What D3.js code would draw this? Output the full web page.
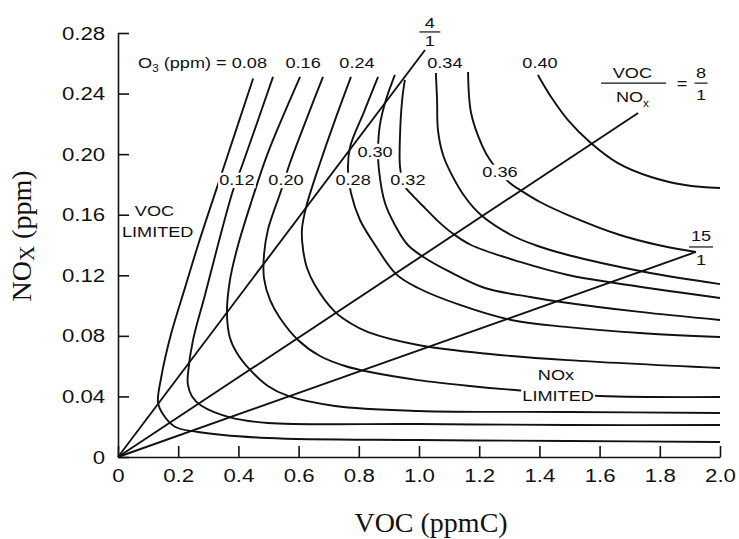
<!DOCTYPE html>
<html>
<head>
<meta charset="utf-8">
<script src="https://cdn.jsdelivr.net/npm/d3@7"></script>
<style>
  body { margin: 0; background: #fff; }
  text { font-family: "Liberation Sans", Arial, Helvetica, sans-serif; fill: #111; }
  .serif { font-family: "Liberation Serif", "Times New Roman", serif; }
</style>
</head>
<body>
<div id="chart"></div>
<script>
// ozone isopleths, points are [VOC (ppmC), NOx (ppm)]
var o3Levels = ["0.08", "0.12", "0.16", "0.20", "0.24", "0.28", "0.30", "0.32", "0.34", "0.36", "0.40"];

var iso008 = [[0.449,0.250],[0.359,0.196],[0.266,0.140],[0.223,0.112],[0.176,0.081],[0.143,0.052],[0.133,0.036],[0.150,0.028],[0.189,0.020],[0.266,0.0165],[0.498,0.0125],[0.997,0.0112],[1.495,0.0106],[2.0,0.0099]];
var iso012 = [[0.515,0.251],[0.415,0.194],[0.382,0.176],[0.332,0.140],[0.289,0.107],[0.249,0.077],[0.233,0.056],[0.232,0.048],[0.246,0.040],[0.276,0.034],[0.375,0.026],[0.498,0.0225],[0.997,0.0218],[1.495,0.0211],[2.0,0.0211]];
var iso016 = [[0.605,0.251],[0.498,0.2008],[0.445,0.1697],[0.399,0.140],[0.372,0.1169],[0.362,0.0951],[0.372,0.0786],[0.395,0.0687],[0.439,0.0575],[0.498,0.0469],[0.565,0.0403],[0.721,0.0337],[0.997,0.0304],[1.495,0.0297],[2.0,0.0291]];
var iso020 = [[0.681,0.251],[0.625,0.2225],[0.571,0.194],[0.542,0.176],[0.498,0.150],[0.485,0.1334],[0.485,0.1182],[0.505,0.1037],[0.538,0.0918],[0.598,0.0773],[0.671,0.0667],[0.754,0.0601],[0.837,0.0561],[0.997,0.0508],[1.169,0.0469],[1.319,0.0442],[1.601,0.0403],[2.0,0.0396]];
var iso024 = [[0.774,0.251],[0.721,0.2225],[0.671,0.194],[0.625,0.165],[0.611,0.150],[0.615,0.1367],[0.628,0.1248],[0.654,0.1136],[0.721,0.0958],[0.771,0.0885],[0.831,0.0825],[0.997,0.074],[1.236,0.068],[1.495,0.064],[2.0,0.0588]];
var iso028 = [[0.864,0.251],[0.817,0.2278],[0.771,0.2047],[0.764,0.1895],[0.774,0.1743],[0.804,0.1565],[0.854,0.140],[0.924,0.1208],[0.997,0.1116],[1.136,0.1004],[1.306,0.0905],[1.495,0.0858],[1.734,0.0819],[2.0,0.0792]];
var iso030 = [[0.920,0.2523],[0.890,0.2357],[0.870,0.2192],[0.864,0.2027],[0.867,0.1895],[0.887,0.1677],[0.920,0.1532],[0.963,0.140],[1.02,0.1314],[1.103,0.1222],[1.219,0.1116],[1.369,0.1057],[1.472,0.1024],[1.734,0.0958],[2.0,0.0905]];
var iso032 = [[0.953,0.249],[0.944,0.2357],[0.937,0.2126],[0.937,0.1915],[0.950,0.1796],[0.980,0.1724],[1.020,0.1644],[1.063,0.1558],[1.110,0.1479],[1.173,0.140],[1.336,0.1288],[1.495,0.1202],[1.651,0.1149],[2.0,0.105]];
var iso034 = [[1.056,0.2536],[1.06,0.2357],[1.063,0.2159],[1.08,0.1994],[1.106,0.1875],[1.153,0.1717],[1.206,0.1598],[1.306,0.1466],[1.385,0.140],[1.495,0.1334],[1.751,0.1222],[2.0,0.1142]];
var iso036 = [[1.163,0.2542],[1.173,0.2272],[1.209,0.206],[1.236,0.1961],[1.302,0.1809],[1.336,0.1763],[1.402,0.1684],[1.495,0.1598],[1.668,0.1466],[1.794,0.140],[1.920,0.1354]];
var iso040 = [[1.395,0.2523],[1.439,0.2377],[1.495,0.2225],[1.571,0.2074],[1.661,0.1941],[1.771,0.1849],[1.884,0.1796],[2.0,0.1776]];

var isopleths = [iso008, iso012, iso016, iso020, iso024, iso028, iso030, iso032, iso034, iso036, iso040];

// VOC/NOx ratio lines from the origin, end points
var ratioTop = ["4", "8", "15"];
var ratioEnds = [[1.02, 0.2688], [1.728, 0.2272], [1.920, 0.1354]];

var xTicks = [0, 0.2, 0.4, 0.6, 0.8, 1.0, 1.2, 1.4, 1.6, 1.8, 2.0];
var yTicks = [0, 0.04, 0.08, 0.12, 0.16, 0.20, 0.24, 0.28];

// set the dimensions and margins of the graph
var margin = {top: 33, right: 19, bottom: 82, left: 118},
    width = 739 - margin.left - margin.right,
    height = 539 - margin.top - margin.bottom;

var SX = 1.17; // the lettering in the scan is a bit wide

var svg = d3.select("#chart")
  .append("svg")
    .attr("width", 739)
    .attr("height", 539)
  .append("g")
    .attr("transform", "translate(" + margin.left + "," + margin.top + ")");

var x = d3.scaleLinear().domain([0, 2]).range([0, width]);
var y = d3.scaleLinear().domain([0, 0.28]).range([height, 0]);

// axes, ticks point inwards
var xAxis = svg.append("g")
  .attr("transform", "translate(0," + height + ")")
  .call(d3.axisBottom(x).tickValues(xTicks).tickSize(-11).tickSizeOuter(0).tickPadding(12)
    .tickFormat(function(d) { return d === 0 ? "0" : d3.format(".1f")(d); }));

var yAxis = svg.append("g")
  .call(d3.axisLeft(y).tickValues(yTicks).tickSize(-11).tickSizeOuter(0).tickPadding(11)
    .tickFormat(function(d) { return d === 0 ? "0" : d3.format(".2f")(d); }));

[xAxis, yAxis].forEach(function(a) {
  a.selectAll("path, line").attr("stroke", "#111").attr("stroke-width", 1.6);
  a.selectAll("text")
    .style("font-size", "19px")
    .style("font-family", "'Liberation Sans', Arial, sans-serif")
    .attr("fill", "#111")
    .attr("transform", "scale(" + SX + ",1)");
});

// ratio lines
svg.selectAll(".ratio")
  .data(ratioEnds)
  .enter()
  .append("line")
    .attr("x1", x(0)).attr("y1", y(0))
    .attr("x2", function(d) { return x(d[0]); })
    .attr("y2", function(d) { return y(d[1]); })
    .attr("stroke", "#111")
    .attr("stroke-width", 1.9);

// isopleths
var line = d3.line()
  .x(function(d) { return x(d[0]); })
  .y(function(d) { return y(d[1]); })
  .curve(d3.curveCatmullRom.alpha(0.5));

svg.selectAll(".iso")
  .data(isopleths)
  .enter()
  .append("path")
    .attr("d", line)
    .attr("fill", "none")
    .attr("stroke", "#111")
    .attr("stroke-width", 1.9);

// text helper, optional white box so the label breaks the curve under it
function label(vx, vy, size, anchor) {
  var g = svg.append("g")
    .attr("transform", "translate(" + x(vx) + "," + y(vy) + ") scale(" + SX + ",1)");
  var t = g.append("text")
    .attr("text-anchor", anchor || "middle")
    .attr("dy", "0.35em")
    .style("font-size", size + "px");
  return t;
}
function knockOut(t) {
  var b = t.node().getBBox();
  d3.select(t.node().parentNode).insert("rect", "text")
    .attr("x", b.x - 1).attr("y", b.y + 1)
    .attr("width", b.width + 2).attr("height", b.height - 2)
    .attr("fill", "#fff");
}

// O3 level labels
var o3 = label(0.495, 0.2602, 15.5, "end");
o3.append("tspan").text("O");
o3.append("tspan").attr("dy", 4).style("font-size", "10px").text("3");
o3.append("tspan").attr("dy", -4).text(" (ppm) = " + o3Levels[0]);

var topLabels = [[2, 0.615, 0.2602], [4, 0.794, 0.2602], [8, 1.086, 0.2602], [10, 1.402, 0.2602]];
topLabels.forEach(function(d) { label(d[1], d[2], 15.5).text(o3Levels[d[0]]); });

var inLabels = [[1, 0.395, 0.1829], [3, 0.558, 0.1829], [5, 0.781, 0.1829], [6, 0.854, 0.202], [7, 0.963, 0.1829], [9, 1.269, 0.1882]];
inLabels.forEach(function(d) { knockOut(label(d[1], d[2], 15.5).text(o3Levels[d[0]])); });

// regime labels
label(0.056, 0.1625, 15.5, "start").text("VOC");
label(0.013, 0.1486, 15.5, "start").text("LIMITED");
label(1.455, 0.0542, 15.5).text("NOx");
knockOut(label(1.462, 0.0403, 15.5).text("LIMITED"));

// fraction labels at the ends of the ratio lines
function fraction(vx, vyTop, vyBot, vyBar, top, barW) {
  label(vx, vyTop, 15.5).text(top);
  label(vx, vyBot, 15.5).text("1");
  svg.append("line")
    .attr("x1", x(vx) - barW / 2).attr("x2", x(vx) + barW / 2)
    .attr("y1", y(vyBar)).attr("y2", y(vyBar))
    .attr("stroke", "#111").attr("stroke-width", 1.2);
}
fraction(1.036, 0.2869, 0.2750, 0.2807, ratioTop[0], 21);
fraction(1.937, 0.1459, 0.1307, 0.1387, ratioTop[2], 24);
fraction(1.937, 0.2536, 0.2391, 0.2469, ratioTop[1], 13);

label(1.709, 0.2536, 15.5).text("VOC");
var nox = label(1.709, 0.2378, 15.5);
nox.append("tspan").text("NO");
nox.append("tspan").attr("dy", 5).style("font-size", "10px").text("x");
svg.append("line")
  .attr("x1", x(1.605)).attr("x2", x(1.821))
  .attr("y1", y(0.2469)).attr("y2", y(0.2469))
  .attr("stroke", "#111").attr("stroke-width", 1.2);
label(1.874, 0.2469, 15.5).text("=");

// axis titles
svg.append("text")
  .attr("class", "serif")
  .attr("x", x(1.04))
  .attr("y", height + 75)
  .attr("text-anchor", "middle")
  .style("font-size", "28px")
  .text("VOC (ppmC)");

var yt = svg.append("text")
  .attr("class", "serif")
  .attr("transform", "translate(" + (31 - margin.left) + "," + (236 - margin.top) + ") rotate(-90)")
  .attr("text-anchor", "middle")
  .style("font-size", "28px");
yt.append("tspan").text("NO");
yt.append("tspan").attr("dy", 3).style("font-size", "21px").text("X");
yt.append("tspan").attr("dy", -3).text(" (ppm)");
</script>
</body>
</html>
